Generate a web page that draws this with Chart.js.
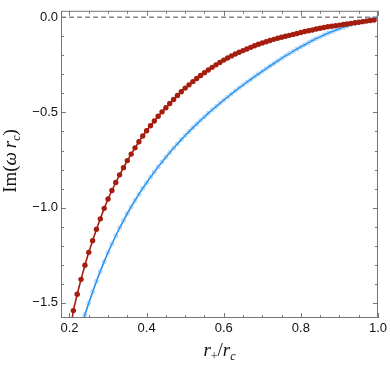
<!DOCTYPE html>
<html>
<head>
<meta charset="utf-8">
<script src="https://cdn.jsdelivr.net/npm/chart.js@4.4.0/dist/chart.umd.min.js"></script>
<style>
  body { margin: 0; background: #fff; }
</style>
</head>
<body>
<canvas id="qnmChart" width="390" height="366"></canvas>
<script>
// r+/rc values and Im(omega rc)
const redX = [0.20,0.21,0.22,0.23,0.24,0.25,0.26,0.27,0.28,0.29,
  0.30,0.31,0.32,0.33,0.34,0.35,0.36,0.37,0.38,0.39,
  0.40,0.41,0.42,0.43,0.44,0.45,0.46,0.47,0.48,0.49,
  0.50,0.51,0.52,0.53,0.54,0.55,0.56,0.57,0.58,0.59,
  0.60,0.61,0.62,0.63,0.64,0.65,0.66,0.67,0.68,0.69,
  0.70,0.71,0.72,0.73,0.74,0.75,0.76,0.77,0.78,0.79,
  0.80,0.81,0.82,0.83,0.84,0.85,0.86,0.87,0.88,0.89,
  0.90,0.91,0.92,0.93,0.94,0.95,0.96,0.97,0.98,0.99];
const redY = [-1.680,-1.541,-1.455,-1.377,-1.303,-1.235,-1.174,-1.114,-1.059,-1.004,
  -0.955,-0.910,-0.868,-0.828,-0.790,-0.753,-0.719,-0.686,-0.654,-0.624,
  -0.596,-0.570,-0.545,-0.520,-0.497,-0.475,-0.453,-0.432,-0.411,-0.391,
  -0.372,-0.355,-0.338,-0.322,-0.306,-0.291,-0.277,-0.263,-0.250,-0.237,
  -0.225,-0.214,-0.203,-0.193,-0.184,-0.175,-0.167,-0.158,-0.150,-0.142,
  -0.135,-0.129,-0.122,-0.116,-0.110,-0.105,-0.100,-0.095,-0.090,-0.085,
  -0.080,-0.075,-0.071,-0.067,-0.062,-0.058,-0.054,-0.050,-0.047,-0.044,
  -0.041,-0.038,-0.035,-0.032,-0.029,-0.026,-0.023,-0.020,-0.017,-0.014];

const blueX = [0.23,0.24,0.25,0.26,0.27,0.28,0.29,
  0.30,0.31,0.32,0.33,0.34,0.35,0.36,0.37,0.38,0.39,
  0.40,0.41,0.42,0.43,0.44,0.45,0.46,0.47,0.48,0.49,
  0.50,0.51,0.52,0.53,0.54,0.55,0.56,0.57,0.58,0.59,
  0.60,0.61,0.62,0.63,0.64,0.65,0.66,0.67,0.68,0.69,
  0.70,0.71,0.72,0.73,0.74,0.75,0.76,0.77,0.78,0.79,
  0.80,0.81,0.82,0.83,0.84,0.85,0.86,0.87,0.88,0.89,
  0.90,0.91,0.92,0.93,0.94,0.95,0.96,0.97,0.98,0.99,1.00];
const blueY = [-1.627,-1.563,-1.501,-1.443,-1.387,-1.334,-1.284,
  -1.236,-1.191,-1.148,-1.107,-1.068,-1.031,-0.996,-0.962,-0.930,-0.898,
  -0.869,-0.840,-0.813,-0.786,-0.760,-0.735,-0.711,-0.687,-0.665,-0.643,
  -0.621,-0.601,-0.580,-0.561,-0.541,-0.523,-0.504,-0.486,-0.469,-0.452,
  -0.435,-0.419,-0.403,-0.387,-0.371,-0.356,-0.341,-0.327,-0.312,-0.298,
  -0.284,-0.270,-0.256,-0.243,-0.229,-0.216,-0.203,-0.191,-0.179,-0.167,
  -0.155,-0.144,-0.133,-0.122,-0.112,-0.103,-0.093,-0.084,-0.076,-0.068,
  -0.060,-0.053,-0.046,-0.039,-0.033,-0.028,-0.022,-0.017,-0.012,-0.006,0.000];

const xMajor = [0.2, 0.4, 0.6, 0.8, 1.0];
const yMajor = [0.0, -0.5, -1.0, -1.5];

const X_MIN = 0.178, X_MAX = 1.0;
const Y_MIN = -1.58, Y_MAX = 0.034;

const toPts = (xs, ys) => xs.map((x, i) => ({ x: x, y: ys[i] }));
const fmt = v => (Math.abs(v) < 1e-9 ? '0.0' : v.toFixed(1).replace('-', '\u2212'));

// frame with inward ticks, Mathematica style
const frameTicks = {
  id: 'frameTicks',
  afterDatasetsDraw(chart) {
    const { ctx, chartArea: a, scales } = chart;
    const xs = scales.x, ys = scales.y;
    ctx.save();
    ctx.strokeStyle = '#777';
    ctx.lineWidth = 1;
    ctx.strokeRect(a.left + 0.5, a.top + 0.5, a.right - a.left - 1, a.bottom - a.top - 1);
    ctx.beginPath();
    for (let i = 4; i <= 20; i++) {
      const v = i * 0.05;
      if (v < X_MIN || v > X_MAX + 1e-9) continue;
      const px = Math.round(xs.getPixelForValue(v)) + 0.5;
      const len = (i % 4 === 0) ? 5 : 3;
      ctx.moveTo(px, a.bottom); ctx.lineTo(px, a.bottom - len);
      ctx.moveTo(px, a.top); ctx.lineTo(px, a.top + len);
    }
    for (let i = 0; i <= 15; i++) {
      const v = -i * 0.1;
      if (v < Y_MIN) continue;
      const py = Math.round(ys.getPixelForValue(v)) + 0.5;
      const len = (i % 5 === 0) ? 5 : 3;
      ctx.moveTo(a.left, py); ctx.lineTo(a.left + len, py);
      ctx.moveTo(a.right, py); ctx.lineTo(a.right - len, py);
    }
    ctx.stroke();
    ctx.restore();
  },
  afterDraw(chart) {
    const { ctx, chartArea: a } = chart;
    const runs = (parts, cx, cy) => {
      let w = 0;
      parts.forEach(p => { ctx.font = p.f; p.w = ctx.measureText(p.t).width; w += p.w; });
      let x = cx - w / 2;
      parts.forEach(p => { ctx.font = p.f; ctx.fillText(p.t, x, cy + (p.dy || 0)); x += p.w; });
    };
    ctx.save();
    ctx.fillStyle = '#111';
    ctx.textBaseline = 'alphabetic';
    const rom = '19px "Liberation Serif"', it = 'italic 19px "Liberation Serif"';
    const sub = 'italic 12px "Liberation Serif"', subr = '12px "Liberation Serif"';
    runs([{ t: 'r', f: it }, { t: '+', f: subr, dy: 4 }, { t: '/', f: rom }, { t: 'r', f: it }, { t: 'c', f: sub, dy: 4 }],
      (a.left + a.right) / 2, 356);
    ctx.translate(16, 161);
    ctx.rotate(-Math.PI / 2);
    runs([{ t: 'Im(', f: rom }, { t: '\u03c9', f: it }, { t: '\u2009r', f: it }, { t: 'c', f: sub, dy: 4 }, { t: ')', f: rom }], 0, 0);
    ctx.restore();
  }
};

const ctx = document.getElementById('qnmChart').getContext('2d');

const qnmChart = new Chart(ctx, {
  type: 'line',
  data: {
    datasets: [
      {
        label: 'zero',
        data: [{ x: X_MIN, y: 0 }, { x: X_MAX, y: 0 }],
        borderColor: '#888',
        borderWidth: 1.4,
        borderDash: [5, 3],
        pointRadius: 0,
        order: 3
      },
      {
        label: 'red',
        data: toPts(redX, redY),
        borderColor: '#a51d0e',
        backgroundColor: '#a51d0e',
        borderWidth: 1.6,
        pointRadius: 2.7,
        pointBorderWidth: 0,
        tension: 0,
        order: 1
      },
      {
        label: 'blue',
        data: toPts(blueX, blueY),
        borderColor: '#1f8ff0',
        borderWidth: 1.6,
        pointRadius: 2,
        pointBorderWidth: 1,
        pointBorderColor: 'rgba(110,175,240,0.6)',
        pointBackgroundColor: 'rgba(0,0,0,0)',
        tension: 0,
        order: 2
      }
    ]
  },
  options: {
    responsive: false,
    animation: false,
    devicePixelRatio: 1,
    layout: { padding: { left: 0, right: 11, top: 0, bottom: 0 } },
    plugins: { legend: { display: false }, tooltip: { enabled: false } },
    scales: {
      x: {
        type: 'linear',
        min: X_MIN,
        max: X_MAX,
        afterFit(s) { s.height = 48; },
        afterBuildTicks(s) { s.ticks = xMajor.map(v => ({ value: v })); },
        grid: { display: false, drawTicks: false },
        border: { display: false },
        ticks: {
          padding: 3,
          color: '#111',
          font: { family: '"Liberation Sans", Arial', size: 13 },
          maxRotation: 0,
          callback: v => fmt(v)
        }
      },
      y: {
        type: 'linear',
        min: Y_MIN,
        max: Y_MAX,
        afterFit(s) { s.width = 61; },
        afterBuildTicks(s) { s.ticks = yMajor.map(v => ({ value: v })); },
        grid: { display: false, drawTicks: false },
        border: { display: false },
        ticks: {
          padding: 3,
          color: '#111',
          font: { family: '"Liberation Sans", Arial', size: 13 },
          callback: v => fmt(v)
        }
      }
    }
  },
  plugins: [frameTicks]
});
</script>
</body>
</html>
